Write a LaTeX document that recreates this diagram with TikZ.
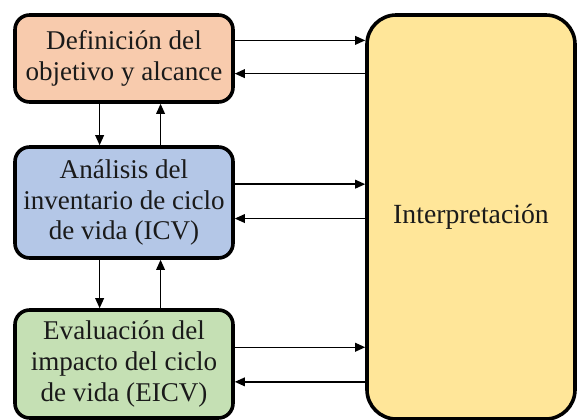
\documentclass[tikz,border=0pt]{standalone}
\usepackage{fontspec}
\setmainfont{Liberation Serif}
\usetikzlibrary{calc,arrows.meta}
\definecolor{cOrange}{HTML}{F8CBAD}
\definecolor{cBlue}{HTML}{B4C7E7}
\definecolor{cGreen}{HTML}{C5E0B4}
\definecolor{cYellow}{HTML}{FFE699}
\definecolor{cText}{HTML}{1A1A1A}
\tikzset{
  stagebox/.style={draw=black, line width=2.7pt, rounded corners=11pt, inner sep=0pt,
    minimum width=218*0.75pt, align=center, text=cText,
    font=\fontsize{20.3}{23.2}\selectfont},
  conn/.style={line width=1pt, -{Triangle[length=7.5pt,width=6.5pt]}},
}
\begin{document}
\begin{tikzpicture}[x=0.75pt,y=-0.75pt]
\useasboundingbox (0,0) rectangle (577,420);
\node[stagebox, fill=cYellow, minimum width=208*0.75pt, minimum height=404*0.75pt, rounded corners=22pt, font=\fontsize{20.8}{24}\selectfont] (interp) at (471,217) {Interpretación};
\node[stagebox, fill=cOrange, minimum height=87*0.75pt] (def) at (124,58.5) {Definición del\\objetivo y alcance};
\node[stagebox, fill=cBlue, minimum height=111*0.75pt] (inv) at (124,202.5) {Análisis del\\inventario de ciclo\\de vida (ICV)};
\node[stagebox, fill=cGreen, minimum height=108*0.75pt] (eval) at (124,364) {Evaluación del\\impacto del ciclo\\de vida (EICV)};
% horizontal connectors
\coordinate (d1) at ($(def.north east)!0.30!(def.south east)$);
\coordinate (d2) at ($(def.north east)!0.667!(def.south east)$);
\coordinate (i1) at ($(inv.north east)!0.34!(inv.south east)$);
\coordinate (i2) at ($(inv.north east)!0.64!(inv.south east)$);
\coordinate (e1) at ($(eval.north east)!0.35!(eval.south east)$);
\coordinate (e2) at ($(eval.north east)!0.66!(eval.south east)$);
\draw[conn] (d1) -- (d1 -| interp.west);
\draw[conn] (d2 -| interp.west) -- (d2);
\draw[conn] (i1) -- (i1 -| interp.west);
\draw[conn] (i2 -| interp.west) -- (i2);
\draw[conn] (e1) -- (e1 -| interp.west);
\draw[conn] (e2 -| interp.west) -- (e2);
% vertical connectors
\coordinate (v1) at ($(def.south west)!0.39!(def.south east)$);
\coordinate (v2) at ($(def.south west)!0.665!(def.south east)$);
\coordinate (v3) at ($(inv.south west)!0.39!(inv.south east)$);
\coordinate (v4) at ($(inv.south west)!0.665!(inv.south east)$);
\draw[conn] (v1) -- (v1 |- inv.north);
\draw[conn] (v2 |- inv.north) -- (v2);
\draw[conn] (v3) -- (v3 |- eval.north);
\draw[conn] (v4 |- eval.north) -- (v4);
\end{tikzpicture}
\end{document}
